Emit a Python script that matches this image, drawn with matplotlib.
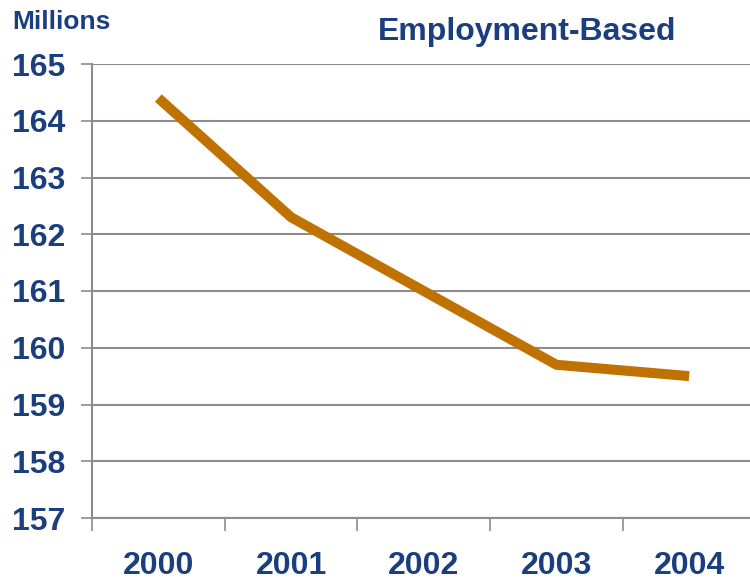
import matplotlib.pyplot as plt

years = ['2000', '2001', '2002', '2003', '2004']
covered = [164.4, 162.3, 161.0, 159.7, 159.5]
yticks = [157, 158, 159, 160, 161, 162, 163, 164, 165]

navy = '#1B3F7E'
grid = '#8C8C8C'

plt.rcParams['font.family'] = ['Liberation Sans', 'DejaVu Sans']
plt.rcParams['font.weight'] = 'bold'

fig = plt.figure(figsize=(7.5, 5.81), dpi=100)
# axes runs a little past the right edge, as in the original
ax = fig.add_axes([92/750, 1-518/581, 663.5/750, 454/581])

x = list(range(len(years)))
ax.plot(x, covered, color='#C07200', lw=7.2, solid_capstyle='butt', solid_joinstyle='miter')

ax.set_xlim(-0.5, len(years)-0.5)
ax.set_ylim(157, 165)
ax.set_yticks(yticks)
ax.set_yticklabels([str(v) for v in yticks])
ax.set_xticks(x)
ax.set_xticklabels(years)
ax.set_xticks([i-0.5 for i in range(len(years)+1)], minor=True)

ax.grid(axis='y', color=grid, lw=1.5)
ax.set_axisbelow(True)
for s in ['top', 'right']:
    ax.spines[s].set_visible(False)
for s in ['left', 'bottom']:
    ax.spines[s].set_color(grid)
    ax.spines[s].set_linewidth(1.5)

ax.tick_params(axis='y', length=8, width=1.2, color=grid, pad=11, labelsize=23, labelcolor=navy)
ax.tick_params(axis='x', which='major', length=0, pad=23.5, labelsize=23, labelcolor=navy)
ax.tick_params(axis='x', which='minor', length=9, width=1.2, color=grid)

fig.text(12/750, 1-22/581, 'Millions', fontsize=19, color=navy, fontweight='bold', va='center', ha='left')
fig.text(527/750, 1-32/581, 'Employment-Based', fontsize=23, color=navy, fontweight='bold', va='center', ha='center')

fig.savefig('out.png', dpi=100)
